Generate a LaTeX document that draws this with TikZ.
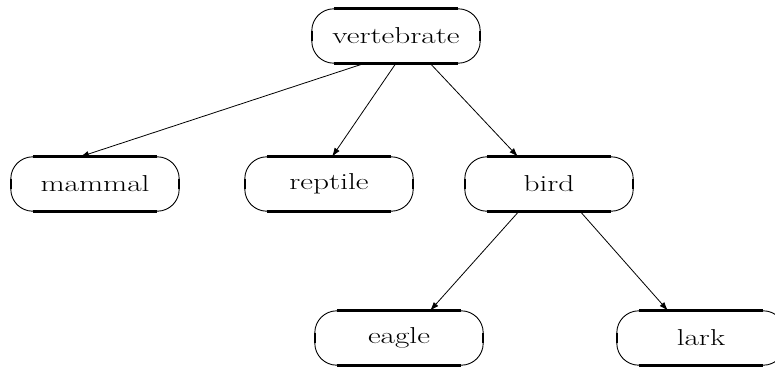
\documentclass[tikz,border=0pt]{standalone}
\usetikzlibrary{arrows.meta}
\newcommand{\widetxt}[1]{\scalebox{1.36}[1]{#1}}
\begin{document}
\begin{tikzpicture}[x=1pt,y=-1pt,
  cls/.style={minimum width=168pt,minimum height=54pt,inner sep=0pt,
    font=\fontsize{23}{26}\selectfont},
  link/.style={line width=0.8pt,-{Latex[length=9pt,width=6pt]}},
  thin/.style={line width=0.9pt},
  thickedge/.style={line width=3pt}]
\useasboundingbox (0,0) rectangle (775,367);
\node[cls] (vert) at (396,36) {\widetxt{vertebrate}};
\node[cls] (mam) at (95,184) {\widetxt{mammal}};
\node[cls] (rep) at (329,184) {\widetxt{reptile}};
\node[cls] (bird) at (549,184) {\widetxt{bird}};
\node[cls] (eagle) at (399,338) {\widetxt{eagle}};
\node[cls] (lark) at (701,338) {\widetxt{lark}};
\foreach \n in {vert,mam,rep,bird,eagle,lark}{
  \draw[thin,rounded corners=22pt] (\n.south west) rectangle (\n.north east);
  \draw[thickedge] ([xshift=22pt]\n.north west) -- ([xshift=-22pt]\n.north east);
  \draw[thickedge] ([xshift=22pt]\n.south west) -- ([xshift=-22pt]\n.south east);
  \draw[line width=2.5pt] ([yshift=5pt]\n.west) -- ([yshift=-5pt]\n.west);
  \draw[line width=2.5pt] ([yshift=5pt]\n.east) -- ([yshift=-5pt]\n.east);
}
\draw[link] ([xshift=-31pt]vert.south) -- ([xshift=-15pt]mam.north);
\draw[link] ([xshift=0pt]vert.south) -- ([xshift=3pt]rep.north);
\draw[link] ([xshift=34pt]vert.south) -- ([xshift=-31pt]bird.north);
\draw[link] ([xshift=-30pt]bird.south) -- ([xshift=31pt]eagle.north);
\draw[link] ([xshift=31pt]bird.south) -- ([xshift=-33pt]lark.north);
\end{tikzpicture}
\end{document}
